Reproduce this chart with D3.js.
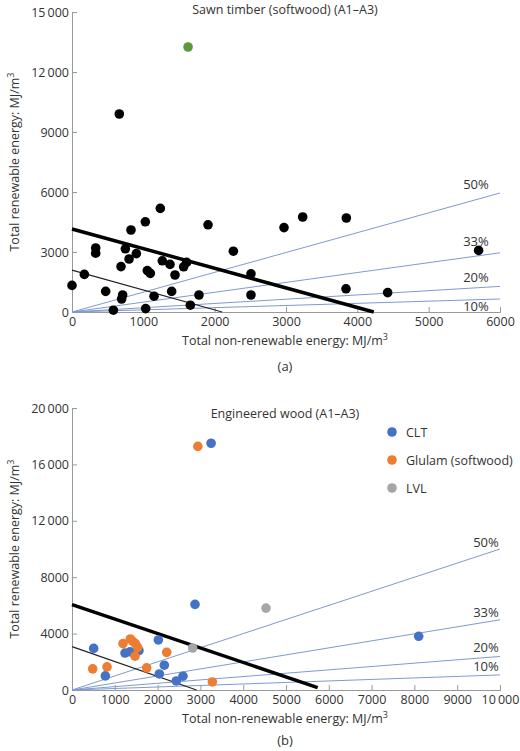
<!DOCTYPE html>
<html><head><meta charset="utf-8">
<script src="https://cdn.jsdelivr.net/npm/d3@7"></script>
<style>body{margin:0;background:#fff}text{font-family:"Open Sans",sans-serif;fill:#333}</style>
</head><body><svg id="c" width="520" height="751"></svg>
<script>
// Chart (a)
const sawnPts = [[0,1330],[663,9900],[173,1880],[332,3200],[332,2940],[472,1030],[580,90],[687,2270],[696,650],[710,850],[748,3160],[800,2650],[827,4100],[902,2920],[1028,4510],[1033,170],[1056,2070],[1098,1930],[1150,790],[1238,5180],[1266,2560],[1374,2380],[1397,1030],[1444,1850],[1565,2260],[1607,2480],[1659,340],[1780,850],[1907,4360],[2262,3040],[2509,1910],[2509,850],[2972,4220],[3234,4750],[3846,4700],[3841,1160],[4425,970],[5700,3080]];
const sawnOutlier = [[1627,13250]];
const sawnThick = [[0,4150],[4230,0]];
const sawnThin = [[0,2090],[2105,0]];
const sawnRayEnds = [5950,2960,1280,650];
const rayLabels = ["50%","33%","20%","10%"];
const sawnXTicks = [0,1000,2000,3000,4000,5000,6000];
const sawnYTicks = [0,3000,6000,9000,12000,15000];
// Chart (b)
const cltPts = [[506,2950],[779,1000],[1238,2620],[1355,2710],[1565,2790],[2017,3550],[2040,1140],[2157,1760],[2438,640],[2593,980],[2874,6070],[8100,3810],[3250,17500]];
const glulamPts = [[483,1500],[818,1640],[1192,3290],[1363,3620],[1420,3450],[1480,3290],[1534,3020],[1472,2400],[1745,1570],[2212,2670],[3279,570],[2940,17280]];
const lvlPts = [[4533,5810],[2819,2980]];
const engThick = [[0,6060],[5740,170]];
const engThin = [[0,3080],[2910,0]];
const engRayEnds = [10000,4980,2380,1070];
const engXTicks = [0,1000,2000,3000,4000,5000,6000,7000,8000,9000,10000];
const engYTicks = [0,4000,8000,12000,16000,20000];

const svg = d3.select("#c");
const fmt = v => v>=10000 ? d3.format(",")(v).replace(",", "\u2009") : String(v);
const RAY="#7f9ad0";

function panel(o){
  const g = svg.append("g");
  const x = d3.scaleLinear().domain([0,o.xmax]).range([72,500]);
  const y = d3.scaleLinear().domain([0,o.ymax]).range([o.y0,o.y1]);
  const ax = g.append("g").attr("transform",`translate(0,${o.y0})`).call(d3.axisBottom(x).tickValues(o.xt).tickSize(-5).tickPadding(5).tickFormat(fmt));
  const ay = g.append("g").attr("transform","translate(72,0)").call(d3.axisLeft(y).tickValues(o.yt).tickSize(-5).tickPadding(3).tickFormat(fmt));
  [ax,ay].forEach(a=>{a.selectAll("path,line").attr("stroke","#999");a.selectAll("text").attr("font-size",12.5).attr("fill","#333").style("font-family","Open Sans");});
  o.ends.forEach((e,i)=>{
    g.append("line").attr("x1",x(0)).attr("y1",y(0)).attr("x2",x(o.xmax)).attr("y2",y(e)).attr("stroke",RAY).attr("stroke-width",1);
  });
  o.labs.forEach((l,i)=>g.append("text").attr("x",o.labX).attr("y",o.labY[i]).attr("text-anchor","middle").attr("font-size",13).text(l));
  const ln=d3.line().x(d=>x(d[0])).y(d=>y(d[1]));
  g.append("path").attr("d",ln(o.thin)).attr("stroke","#222").attr("stroke-width",1.2).attr("fill","none");
  g.append("path").attr("d",ln(o.thick)).attr("stroke","#000").attr("stroke-width",3.5).attr("fill","none");
  o.series.forEach(s=>g.selectAll(null).data(s.pts).join("circle").attr("cx",d=>x(d[0])).attr("cy",d=>y(d[1])).attr("r",s.r||4.8).attr("fill",s.c));
  g.append("text").attr("x",285).attr("y",o.titleY).attr("text-anchor","middle").attr("font-size",12.5).text(o.title);
  g.append("text").attr("x",285).attr("y",o.y0+33).attr("text-anchor","middle").attr("font-size",12.5).html("Total non-renewable energy: MJ/m<tspan dy='-5' font-size='9'>3</tspan>");
  g.append("text").attr("x",285).attr("y",o.y0+o.tagDy).attr("text-anchor","middle").attr("font-size",13).text(o.tag);
  g.append("text").attr("transform",`translate(19,${(o.y0+o.y1)/2}) rotate(-90)`).attr("text-anchor","middle").attr("font-size",12.5).html("Total renewable energy: MJ/m<tspan dy='-5' font-size='9'>3</tspan>");
  return g;
}
panel({xmax:6000,ymax:15000,y0:312,y1:12,xt:sawnXTicks,yt:sawnYTicks,ends:sawnRayEnds,labs:rayLabels,labX:476,labY:[189,246,282,311],
  thin:sawnThin,thick:sawnThick,series:[{pts:sawnPts,c:"#000"},{pts:sawnOutlier,c:"#5a9a3c"}],title:"Sawn timber (softwood) (A1\u2013A3)",titleY:14,tag:"(a)",tagDy:59});
panel({xmax:10000,ymax:20000,y0:690,y1:408,xt:engXTicks,yt:engYTicks,ends:engRayEnds,labs:rayLabels,labX:486,labY:[547,617,652,671],
  thin:engThin,thick:engThick,series:[{pts:lvlPts,c:"#a6a6a6"},{pts:cltPts,c:"#4472c4"},{pts:glulamPts,c:"#ed7d31"}],title:"Engineered wood (A1\u2013A3)",titleY:418,tag:"(b)",tagDy:55});
const leg=[["CLT","#4472c4"],["Glulam (softwood)","#ed7d31"],["LVL","#a6a6a6"]];
leg.forEach((l,i)=>{svg.append("circle").attr("cx",392).attr("cy",432+i*28).attr("r",4.8).attr("fill",l[1]);
  svg.append("text").attr("x",406).attr("y",437+i*28).attr("font-size",12.5).text(l[0]);});
</script></body></html>
